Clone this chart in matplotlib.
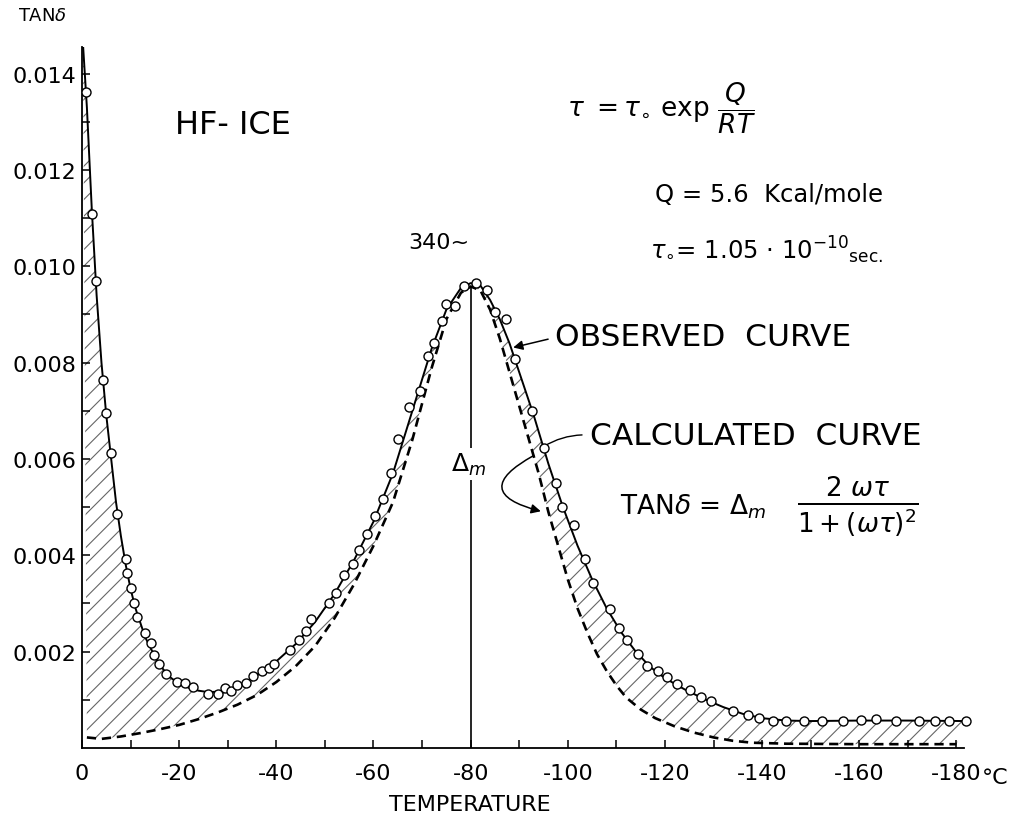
import numpy as np
import matplotlib.pyplot as plt

plt.rcParams['font.family'] = ['DejaVu Sans']
plt.rcParams['mathtext.fontset'] = 'dejavusans'
plt.rcParams['hatch.linewidth'] = 0.8

# measured loss tangent of HF-ice at 340 c/s
obs_temp = [-0.8, -2.1, -2.8, -4.4, -5.0, -5.9, -7.3, -9.0, -9.2, -10.0, -10.7, -11.4,
            -13.0, -14.2, -14.8, -15.9, -17.3, -19.5, -21.2, -22.9, -26.0, -27.9, -29.4,
            -30.7, -32.0, -33.7, -35.2, -37.0, -38.4, -39.6, -42.8, -44.7, -46.1, -47.2,
            -50.8, -52.2, -53.9, -55.8, -57.1, -58.7, -60.4, -62.0, -63.6, -65.0, -67.4,
            -69.5, -71.3, -72.4, -74.0, -75.0, -76.7, -78.6, -81.0, -83.3, -85.1, -87.2,
            -89.1, -92.7, -95.0, -97.5, -98.9, -101.3, -103.5, -105.2, -108.6, -110.6,
            -112.1, -114.5, -116.4, -118.5, -120.5, -122.4, -125.2, -127.4, -129.5,
            -134.1, -137.0, -139.4, -142.3, -144.9, -148.7, -152.3, -156.6, -160.4,
            -163.4, -167.6, -172.2, -175.5, -178.5, -182.0]
obs_tan = [0.01362, 0.01108, 0.00969, 0.00764, 0.00695, 0.00612, 0.00486, 0.00392,
           0.00363, 0.00332, 0.00301, 0.00272, 0.00238, 0.00218, 0.00194, 0.00175,
           0.00153, 0.00137, 0.00135, 0.00126, 0.00112, 0.00113, 0.00124, 0.00119,
           0.00131, 0.00136, 0.00149, 0.00160, 0.00167, 0.00175, 0.00204, 0.00224,
           0.00242, 0.00267, 0.00302, 0.00321, 0.00359, 0.00381, 0.00412, 0.00445,
           0.00481, 0.00516, 0.00571, 0.00642, 0.00707, 0.00741, 0.00813, 0.00841,
           0.00886, 0.00922, 0.00918, 0.00958, 0.00965, 0.00950, 0.00906, 0.00890,
           0.00808, 0.00699, 0.00623, 0.00551, 0.00501, 0.00462, 0.00392, 0.00342,
           0.00289, 0.00249, 0.00224, 0.00195, 0.00171, 0.00159, 0.00147, 0.00133,
           0.00121, 0.00105, 0.00098, 0.00077, 0.00068, 0.00062, 0.00057, 0.00057,
           0.00057, 0.00057, 0.00057, 0.00059, 0.00060, 0.00057, 0.00057, 0.00057,
           0.00056, 0.00056]

# smooth observed curve
curve_temp = [-0.2, -1, -2, -3, -4, -5, -6, -7, -8, -9, -10, -11, -12, -13, -14, -15,
              -16, -18, -20, -22, -24, -26, -28, -30, -33, -36, -40, -44, -48, -52, -56,
              -60, -64, -68, -72, -75, -78, -80, -82, -84, -86, -88, -90, -93, -96, -99,
              -102, -105, -108, -111, -114, -117, -120, -124, -128, -132, -136, -140,
              -145, -150, -160, -170, -182]
curve_tan = [0.0146, 0.0133, 0.0112, 0.0094, 0.0080, 0.0069, 0.0060, 0.0051, 0.0044,
             0.0038, 0.0033, 0.0029, 0.0026, 0.0023, 0.0021, 0.0019, 0.00172, 0.00148,
             0.00133, 0.00125, 0.00119, 0.00116, 0.00117, 0.00120, 0.00133, 0.00152,
             0.00180, 0.00216, 0.00262, 0.00320, 0.00390, 0.00470, 0.00570, 0.00700,
             0.00830, 0.00910, 0.00955, 0.00965, 0.00960, 0.00930, 0.00890, 0.00840,
             0.00780, 0.00690, 0.00590, 0.00500, 0.00420, 0.00350, 0.00290, 0.00240,
             0.00200, 0.00168, 0.00145, 0.00122, 0.00102, 0.00085, 0.00071, 0.00062,
             0.00057, 0.00056, 0.00057, 0.00057, 0.00056]

# calculated Debye curve
calc_temp = [-1, -4, -8, -12, -16, -20, -24, -28, -32, -36, -40, -44, -48, -52, -56,
             -60, -64, -68, -72, -75, -78, -80, -82, -84, -86, -88, -90, -92, -94, -96,
             -98, -100, -102, -104, -106, -108, -110, -112, -115, -118, -122, -126,
             -130, -134, -138, -145, -160, -180]
calc_tan = [0.00022, 0.00019, 0.00024, 0.00031, 0.00039, 0.00048, 0.00060, 0.00074,
            0.00090, 0.00110, 0.00137, 0.00170, 0.00212, 0.00270, 0.00340, 0.00420,
            0.00510, 0.00640, 0.00790, 0.00890, 0.00945, 0.00958, 0.00950, 0.00910,
            0.00850, 0.00780, 0.00710, 0.00640, 0.00570, 0.00490, 0.00420, 0.00350,
            0.00290, 0.00240, 0.00195, 0.00160, 0.00130, 0.00105, 0.00080, 0.00062,
            0.00045, 0.00032, 0.00022, 0.00015, 0.00011, 0.00009, 0.00008, 0.00008]

x_ticks = [0, -20, -40, -60, -80, -100, -120, -140, -160, -180]
x_labels = ['0', '-20', '-40', '-60', '-80', '-100', '-120', '-140', '-160', '-180']
y_ticks = [0.002, 0.004, 0.006, 0.008, 0.010, 0.012, 0.014]
y_labels = ['0.002', '0.004', '0.006', '0.008', '0.010', '0.012', '0.014']

peak_temp = -80
peak_tan = 0.00955

W, H = 1014, 837
fig = plt.figure(figsize=(W / 100, H / 100), dpi=100)
ax = fig.add_axes([0.0809, 0.1051, 0.8767, 0.8375])


def fx(px):
    return px / W


def fy(py):
    return 1 - py / H


# hatched area between observed and calculated curves
ax.fill(curve_temp + calc_temp[::-1], curve_tan + calc_tan[::-1],
        facecolor='none', edgecolor='#666666', linewidth=0, hatch='//')

ax.plot(curve_temp, curve_tan, color='black', lw=1.4, zorder=3)
ax.plot(calc_temp, calc_tan, color='black', lw=1.9, ls=(0, (3.5, 2.2)), zorder=3)
ax.plot(obs_temp, obs_tan, ls='none', marker='o', ms=6.5, mfc='white',
        mec='black', mew=1.0, zorder=4)

# maximum of the calculated curve
ax.vlines(peak_temp, 0, peak_tan, color='black', lw=1.2, zorder=2)
ax.text(peak_temp + 0.5, 0.0059, r'$\Delta_{\mathit{m}}$', fontsize=18, ha='center',
        va='center', bbox=dict(facecolor='white', edgecolor='none', pad=2), zorder=5)
ax.text(-73.5, 0.0105, '340~', fontsize=16, ha='center', va='center')

ax.set_xlim(0, -183)
ax.set_ylim(0, 0.01455)
ax.spines['top'].set_visible(False)
ax.spines['right'].set_visible(False)
ax.spines['bottom'].set_bounds(0, -181.5)
for s in ('left', 'bottom'):
    ax.spines[s].set_linewidth(1.3)

ax.set_xticks(x_ticks)
ax.set_xticklabels(x_labels)
ax.set_xticks(np.arange(-10, -180, -20), minor=True)
ax.set_yticks(y_ticks)
ax.set_yticklabels(y_labels)
ax.set_yticks(np.arange(0.001, 0.0145, 0.002), minor=True)
ax.tick_params(which='both', direction='in', length=6, width=1.1)
ax.tick_params(axis='x', labelsize=16, pad=11)
ax.tick_params(axis='y', labelsize=16, pad=4)

fig.text(fx(982), fy(778), '°C', fontsize=16, va='center')
fig.text(fx(470), fy(805), 'TEMPERATURE', fontsize=16, ha='center', va='center')
fig.text(fx(18), fy(16), r'TAN$\delta$', fontsize=13, va='center')
fig.text(fx(175), fy(125), 'HF- ICE', fontsize=23, va='center')

fig.text(fx(567), fy(108), r'$\tau\ =\tau_{\circ}\ \mathrm{exp}\ \dfrac{Q}{RT}$',
         fontsize=19, va='center')
fig.text(fx(655), fy(195), 'Q = 5.6  Kcal/mole', fontsize=17.5, va='center')
fig.text(fx(650), fy(250), r'$\tau_{\circ}$= 1.05 $\cdot$ 10$^{-10}$$_{\mathrm{sec.}}$',
         fontsize=17.5, va='center')

fig.text(fx(555), fy(337), 'OBSERVED  CURVE', fontsize=22.5, va='center')
ax.annotate('', xy=(-88.2, 0.0083), xytext=(-96.5, 0.0085),
            arrowprops=dict(arrowstyle='-|>', color='black', lw=1.1,
                            mutation_scale=14))

fig.text(fx(590), fy(437), 'CALCULATED  CURVE', fontsize=22.5, va='center')
ax.annotate('', xy=(-94.6, 0.00623), xytext=(-103.5, 0.0065),
            arrowprops=dict(arrowstyle='-', color='black', lw=1.0,
                            connectionstyle='arc3,rad=0.15'))
ax.annotate('', xy=(-95.0, 0.00490), xytext=(-93.5, 0.00610),
            arrowprops=dict(arrowstyle='-|>', color='black', lw=1.1,
                            mutation_scale=14, connectionstyle='arc3,rad=1.3'))

fig.text(fx(620), fy(507), r'TAN$\delta$ = $\Delta_{\mathit{m}}$', fontsize=19,
         va='center')
fig.text(fx(858), fy(507), r'$\frac{2\ \omega\tau}{1+(\omega\tau)^2}$',
         fontsize=27, ha='center', va='center')

fig.savefig('out.png', dpi=100, facecolor='white')
